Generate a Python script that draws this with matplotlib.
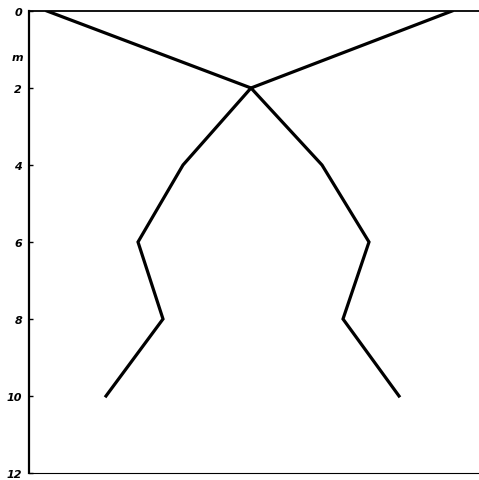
import numpy as np
import matplotlib.pyplot as plt

# depth levels (m) and the two profiles (arbitrary horizontal units)
depth = [0, 2, 4, 6, 8, 10]
profile_a = [18, 222, 154, 109, 134, 77]
profile_b = [423, 222, 293, 340, 314, 370]
depth_ticks = [0, 2, 4, 6, 8, 10, 12]

fig = plt.figure(figsize=(4.79, 4.81), dpi=100)
ax = fig.add_axes([29/479, 1 - 474/481, 450/479, 462/481])

ax.plot(profile_a, depth, color='black', lw=2.3, solid_joinstyle='miter')
ax.plot(profile_b, depth, color='black', lw=2.3, solid_joinstyle='miter')

ax.set_xlim(0, 450)
ax.set_ylim(12, 0)

ax.spines['right'].set_visible(False)
ax.spines['left'].set_linewidth(1.6)
ax.spines['top'].set_linewidth(1.3)
ax.spines['bottom'].set_linewidth(0.8)

ax.set_xticks([])
ax.set_yticks(depth_ticks)
ax.set_yticklabels([str(d) for d in depth_ticks], fontstyle='italic', fontweight='bold', fontsize=8)
ax.tick_params(axis='y', direction='in', length=3, width=1, pad=5)

# unit label between 0 and 2
ax.text(-0.013, 1.2, 'm', transform=ax.get_yaxis_transform(), ha='right', va='center',
        fontstyle='italic', fontweight='bold', fontsize=8)

plt.savefig('out.png', dpi=100)
